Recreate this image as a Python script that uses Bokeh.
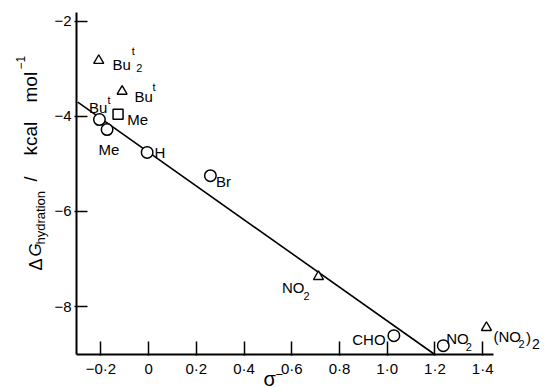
import math
from bokeh.plotting import figure
from bokeh.models import Label, FixedTicker, CustomJSTickFormatter
from bokeh.embed import file_html
from bokeh.resources import INLINE

# ---------------- data ----------------
circle_sigma = [-0.206, -0.174, -0.006, 0.259, 1.028, 1.235]
circle_dg = [-4.07, -4.28, -4.76, -5.25, -8.61, -8.82]
circle_names = ["Bu^t", "Me", "H", "Br", "CHO", "NO_2"]

triangle_sigma = [-0.209, -0.111, 0.712, 1.416]
triangle_dg = [-2.83, -3.477, -7.37, -8.44]
triangle_names = ["Bu^t_2", "Bu^t", "NO_2", "(NO_2)_2"]

square_sigma = [-0.128]
square_dg = [-3.96]
square_names = ["Me"]

fit_sigma = [-0.297, 1.195]
fit_dg = [-3.706, -8.99]

x_ticks = [-0.2, 0.0, 0.2, 0.4, 0.6, 0.8, 1.0, 1.2, 1.4]
x_tick_labels = ["\u22120\u00b72", "0", "0\u00b72", "0\u00b74", "0\u00b76", "0\u00b78", "1\u00b70", "1\u00b72", "1\u00b74"]
y_ticks = [-2, -4, -6, -8]
y_tick_labels = ["\u22122", "\u22124", "\u22126", "\u22128"]

x_axis_span = (-0.302, 1.445)
y_axis_span = (-9.006, -1.82)

# ---------------- styling ----------------
FONT = "Liberation Sans"
MAIN = "15px"
SMALL = "11px"

# frame covers the whole canvas; the axes sit at fixed data locations
p = figure(width=551, height=389, x_range=(-0.6207, 1.6886), y_range=(-9.7416, -1.5693),
           output_backend="svg", toolbar_location=None,
           min_border_left=0, min_border_right=0, min_border_top=0, min_border_bottom=0)
p.grid.visible = False
p.outline_line_color = None
p.background_fill_color = "white"
p.border_fill_color = "white"

for ax in (p.xaxis[0], p.yaxis[0]):
    ax.axis_line_width = 2
    ax.axis_line_color = "black"
    ax.major_tick_line_width = 1.5
    ax.major_tick_line_color = "black"
    ax.minor_tick_line_color = None
    ax.major_label_text_font = FONT
    ax.major_label_text_font_size = MAIN
    ax.major_label_text_color = "black"

p.xaxis.fixed_location = y_axis_span[0]
p.xaxis.bounds = x_axis_span
p.yaxis.fixed_location = x_axis_span[0]
p.yaxis.bounds = y_axis_span

p.xaxis.ticker = FixedTicker(ticks=x_ticks)
p.yaxis.ticker = FixedTicker(ticks=y_ticks)
js = """
const i = tv.findIndex(t => Math.abs(t - tick) < 1e-6);
return i >= 0 ? tl[i] : "";
"""
p.xaxis.formatter = CustomJSTickFormatter(args=dict(tv=x_ticks, tl=x_tick_labels), code=js)
p.yaxis.formatter = CustomJSTickFormatter(args=dict(tv=y_ticks, tl=y_tick_labels), code=js)
p.xaxis.major_tick_in = 13
p.xaxis.major_tick_out = 1
p.xaxis.major_label_standoff = 5
p.yaxis.major_tick_in = 11
p.yaxis.major_tick_out = 2
p.yaxis.major_label_standoff = 3

# regression line
p.line(fit_sigma, fit_dg, line_color="black", line_width=1.6)

# markers
p.scatter(x=circle_sigma, y=circle_dg, marker="circle", size=11.5,
          fill_color="white", line_color="black", line_width=1.5)
p.scatter(x=triangle_sigma, y=triangle_dg, marker="triangle", size=10,
          fill_color="white", line_color="black", line_width=1.4)
p.scatter(x=square_sigma, y=square_dg, marker="square", size=10,
          fill_color="white", line_color="black", line_width=1.5)

# label layout: (text, size, dx, dy, align) relative to the marker, in pixels
circle_layout = [
    [("Bu", MAIN, -10.5, 12, "left"), ("t", SMALL, 8, 20, "left")],
    [("Me", MAIN, -8.7, -20, "left")],
    [("H", MAIN, 7.3, 0.3, "left")],
    [("Br", MAIN, 5.7, -5.7, "left")],
    [("CHO", MAIN, -8.3, -4, "right")],
    [("NO", MAIN, 3, 7, "left"), ("2", SMALL, 22.5, -1.7, "left")],
]
triangle_layout = [
    [("Bu", MAIN, 13.7, -4, "left"), ("t", SMALL, 33, 10, "left"), ("2", SMALL, 37.5, -7, "left")],
    [("Bu", MAIN, 12.3, -5.2, "left"), ("t", SMALL, 30.3, 4.8, "left")],
    [("NO", MAIN, -14, -10.7, "right"), ("2", SMALL, -15, -19, "left")],
    [("(NO", MAIN, 7, -9, "left"), ("2", SMALL, 32, -16, "left"),
     (")", MAIN, 39.5, -10, "left"), ("2", "14px", 45.5, -16, "left")],
]
square_layout = [
    [("Me", MAIN, 9.2, -5.5, "left")],
]

def add_labels(xs, ys, layout):
    for x, y, segs in zip(xs, ys, layout):
        for txt, size, dx, dy, align in segs:
            p.add_layout(Label(x=x, y=y, x_offset=dx, y_offset=dy, text=txt,
                               text_font=FONT, text_font_size=size, text_color="black",
                               text_align=align, text_baseline="alphabetic"))

add_labels(circle_sigma, circle_dg, circle_layout)
add_labels(triangle_sigma, triangle_dg, triangle_layout)
add_labels(square_sigma, square_dg, square_layout)

# y axis title (rotated; screen units from the canvas' lower-left corner)
ylab = [
    ("\u0394", "18px", 35, 119, "normal"),
    ("G", "17px", 35, 133, "italic"),
    ("hydration", "13px", 40, 145, "normal"),
    ("/", "18px", 30, 208, "normal"),
    ("kcal", "19px", 30, 234, "normal"),
    ("mol", "19px", 30, 287, "normal"),
    ("\u22121", "12px", 20, 320, "normal"),
]
for txt, size, sx, sy, style in ylab:
    p.add_layout(Label(x=sx, y=sy, x_units="screen", y_units="screen", angle=math.pi / 2,
                       text=txt, text_font=FONT, text_font_size=size, text_font_style=style,
                       text_color="black", text_align="left", text_baseline="alphabetic"))

# x axis title
p.add_layout(Label(x=263, y=11, x_units="screen", y_units="screen", text="\u03c3",
                   text_font=FONT, text_font_size="20px", text_color="black",
                   text_align="left", text_baseline="alphabetic"))
p.add_layout(Label(x=275, y=15, x_units="screen", y_units="screen", text="\u2212",
                   text_font=FONT, text_font_size="13px", text_color="black",
                   text_align="left", text_baseline="alphabetic"))

open("out.html", "w").write(file_html(p, INLINE))
